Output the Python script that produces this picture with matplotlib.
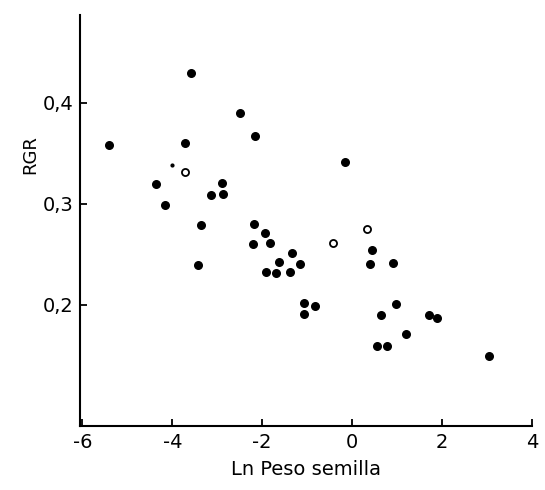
import matplotlib
matplotlib.use("Agg")
import matplotlib.pyplot as plt

# puntos llenos (Ln peso semilla, RGR)
x_llenos = [-5.41, -3.58, -2.50, -2.17, -3.71, -4.36, -2.90, -3.13, -2.88, -4.16,
            -3.35, -2.19, -1.94, -2.21, -1.83, -3.42, -1.34, -1.63, -1.16, -1.92,
            -1.70, -1.39, -1.07, -0.83, -1.07, -0.16, 0.45, 0.40, 0.92, 0.98,
            0.65, 1.70, 1.88, 1.21, 0.56, 0.78, 3.04]
y_llenos = [0.358, 0.430, 0.390, 0.367, 0.360, 0.320, 0.321, 0.309, 0.310, 0.299,
            0.279, 0.280, 0.271, 0.260, 0.261, 0.239, 0.251, 0.242, 0.240, 0.232,
            0.231, 0.232, 0.202, 0.199, 0.191, 0.341, 0.254, 0.240, 0.241, 0.201,
            0.190, 0.190, 0.187, 0.171, 0.159, 0.159, 0.149]

# puntos abiertos
x_abiertos = [-3.71, -0.42, 0.34]
y_abiertos = [0.332, 0.261, 0.275]

# punto pequeno
x_peq = [-4.0]
y_peq = [0.339]

fig = plt.figure(figsize=(5.45, 4.9), dpi=100)
ax = fig.add_axes([0.147, 0.131, 0.829, 0.838])

ax.scatter(x_llenos, y_llenos, s=30, c="black", zorder=3)
ax.scatter(x_abiertos, y_abiertos, s=26, facecolors="white", edgecolors="black",
           linewidths=1.3, zorder=3)
ax.scatter(x_peq, y_peq, s=4, c="black", zorder=3)

ax.set_xlim(-6.05, 4.0)
ax.set_ylim(0.08, 0.487)
ax.set_xticks([-6, -4, -2, 0, 2, 4])
ax.set_xticklabels(["-6", "-4", "-2", "0", "2", "4"])
ax.set_yticks([0.2, 0.3, 0.4])
ax.set_yticklabels(["0,2", "0,3", "0,4"])

ax.spines["top"].set_visible(False)
ax.spines["right"].set_visible(False)
ax.spines["left"].set_linewidth(1.5)
ax.spines["bottom"].set_linewidth(1.5)
ax.tick_params(direction="in", length=5, width=1.3, labelsize=14, pad=5)

ax.set_xlabel("Ln Peso semilla", fontsize=14, labelpad=6)
ax.set_ylabel("RGR", fontsize=13)
ax.yaxis.set_label_coords(-0.09, 0.66)

fig.savefig("out.png", dpi=100)
